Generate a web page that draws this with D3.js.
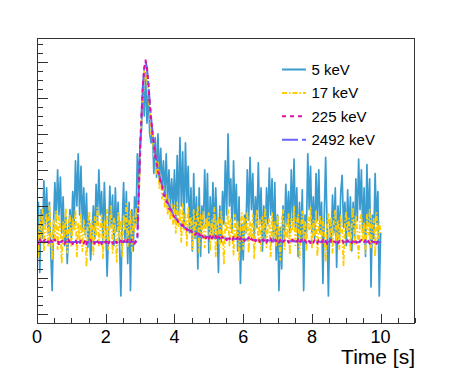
<!DOCTYPE html>
<html>
<head>
<meta charset="utf-8">
<script src="https://cdn.jsdelivr.net/npm/d3@7"></script>
<style>
  body { margin: 0; background: #fff; }
  svg { display: block; font-family: "Liberation Sans", Arial, Helvetica, sans-serif; }
</style>
</head>
<body>
<div id="chart"></div>
<script>
// sampling step of the traces (s)
var dt = 0.04;

var seriesNames = ["5 keV", "17 keV", "225 keV", "2492 keV"];

// 5 keV trace, one value every dt from 0 to 10 s
var blue5 = [
  0.05,0.22,-0.17,0.18,0.02,0.34,0.10,0.30,0.05,0.22,-0.05,-0.27,0.08,0.33,0.12,0.40,0.15,0.36,0.05,0.25,-0.02,0.14,-0.12,0.06,0.18,
  0.02,0.28,0.10,0.45,0.20,0.49,0.15,0.42,0.08,0.30,0.04,0.27,-0.03,0.12,-0.10,0.05,0.20,0.02,0.32,0.12,0.40,0.15,0.28,0.00,0.33,
  0.10,-0.19,0.05,0.31,0.08,0.26,-0.02,0.30,0.06,0.22,0.00,-0.30,0.10,0.33,0.02,0.28,-0.12,0.22,-0.27,0.18,-0.05,0.25,0.10,0.49,0.30,
  0.55,0.62,0.88,0.70,0.94,0.66,0.84,0.60,0.55,0.62,0.38,0.58,0.36,0.60,0.35,0.52,0.30,0.45,0.25,0.49,0.22,0.40,0.20,0.35,0.18,
  0.40,0.12,0.48,0.15,0.58,0.20,0.50,0.08,0.55,0.22,0.42,0.05,0.30,-0.05,0.38,0.02,0.25,-0.15,0.30,-0.08,0.20,0.08,0.40,0.10,0.38,
  -0.06,0.25,0.05,0.33,0.02,0.30,0.10,-0.17,0.20,0.00,0.28,0.10,0.45,0.15,0.60,0.20,0.35,0.05,0.45,0.12,0.32,-0.05,0.25,-0.23,0.10,
  -0.10,0.15,0.05,0.40,0.12,0.47,0.18,0.38,0.02,0.25,0.08,0.44,0.10,0.30,-0.05,0.20,0.02,0.30,0.10,0.41,0.15,0.35,0.00,0.33,-0.10,
  0.15,-0.27,0.08,-0.15,0.20,0.02,0.32,0.10,0.28,0.05,0.40,0.12,0.46,0.08,0.30,-0.08,0.22,0.00,0.29,-0.27,0.15,0.05,0.49,0.18,0.42,
  0.05,0.25,0.02,0.38,0.12,0.40,0.05,0.22,-0.23,0.15,0.47,0.10,-0.30,0.12,0.00,0.26,0.05,0.30,-0.14,0.20,0.02,0.28,0.37,0.08,0.22,
  -0.02,0.29,0.05,0.25,-0.05,0.22,0.02,0.35,0.12,0.46,0.18,0.40,0.05,0.30,-0.08,0.43,0.10,0.35,-0.25,0.15,0.02,0.38,0.10,0.28,-0.30,0.05
];

// 17 keV trace
var yellow17 = [
  0.12,-0.08,0.15,0.00,0.18,-0.05,0.10,0.16,-0.02,0.20,0.05,-0.10,0.12,0.02,0.17,-0.04,0.14,0.08,-0.12,0.11,0.03,0.19,-0.06,0.09,0.15,
  -0.03,0.13,0.06,0.18,-0.08,0.10,0.01,0.16,-0.05,0.12,0.07,-0.14,0.09,0.17,0.00,0.11,-0.07,0.14,0.04,0.19,-0.02,0.08,0.15,-0.09,0.12,
  0.02,0.18,-0.04,0.10,0.20,-0.06,0.13,0.05,-0.11,0.16,0.03,0.12,-0.08,0.15,0.07,0.21,-0.03,0.11,0.17,-0.05,0.14,0.06,0.19,0.10,0.22,
  0.45,0.66,0.80,0.95,0.90,0.93,0.80,0.74,0.60,0.63,0.48,0.52,0.38,0.44,0.30,0.37,0.24,0.31,0.19,0.27,0.15,0.24,0.12,0.21,0.10,
  0.20,0.05,0.22,0.08,0.18,0.00,0.21,0.06,0.16,-0.02,0.19,0.09,0.14,-0.04,0.18,0.03,0.12,0.20,-0.06,0.15,0.05,0.17,-0.03,0.13,0.08,
  0.16,-0.05,0.12,0.02,0.19,-0.08,0.10,0.14,-0.03,0.17,0.04,-0.12,0.11,0.06,0.18,-0.02,0.13,0.08,-0.07,0.15,0.01,0.12,-0.10,0.09,0.16,
  -0.04,0.13,0.05,0.17,-0.06,0.11,0.02,0.15,-0.09,0.10,0.18,0.00,0.12,-0.05,0.14,0.06,0.19,-0.03,0.09,0.13,-0.08,0.16,0.03,0.11,-0.02,
  0.15,0.05,-0.10,0.12,0.18,-0.04,0.10,0.02,0.16,-0.07,0.13,0.06,0.20,-0.02,0.11,0.15,-0.09,0.08,0.17,0.01,0.12,-0.05,0.14,0.07,0.19,
  -0.03,0.12,0.04,0.17,-0.08,0.10,0.15,-0.01,0.13,0.05,-0.11,0.09,0.16,0.02,0.14,-0.06,0.11,0.18,0.00,0.12,-0.04,0.15,0.07,-0.13,0.10,
  0.17,0.03,0.13,-0.05,0.10,0.19,-0.02,0.14,0.06,-0.09,0.12,0.16,0.01,0.11,-0.06,0.15,0.04,0.18,-0.03,0.09,0.13,-0.08,0.16,0.02,0.11,0.05
];

// 225 keV trace
var pink225 = [
  0.01,-0.01,0.015,0.00,-0.012,0.008,0.012,-0.006,0.004,-0.014,0.01,0.002,-0.008,0.014,-0.004,0.006,-0.012,0.01,0.0,0.012,-0.01,0.004,-0.006,0.012,-0.002,
  0.008,-0.012,0.005,0.014,-0.006,0.002,-0.01,0.012,0.004,-0.008,0.01,-0.014,0.006,0.0,0.012,-0.004,0.008,-0.01,0.014,0.002,-0.006,0.01,-0.012,0.004,0.008,
  -0.004,0.012,-0.008,0.006,0.014,-0.01,0.002,0.01,-0.006,0.012,-0.002,0.008,-0.012,0.004,0.01,-0.008,0.014,0.0,-0.006,0.012,0.004,-0.01,0.008,0.02,0.27,
  0.52,0.69,0.87,0.96,1.01,0.96,0.89,0.77,0.69,0.60,0.55,0.48,0.44,0.39,0.37,0.32,0.31,0.26,0.255,0.225,0.215,0.185,0.18,0.155,0.15,
  0.14,0.12,0.125,0.105,0.105,0.09,0.095,0.078,0.082,0.066,0.072,0.056,0.064,0.05,0.056,0.04,0.05,0.034,0.046,0.028,0.042,0.024,0.04,0.02,0.036,
  0.018,0.034,0.014,0.032,0.02,0.035,0.012,0.03,0.022,0.008,0.03,0.016,0.026,0.01,0.032,0.014,0.024,0.006,0.028,0.018,0.012,0.026,0.004,0.022,0.014,
  0.024,0.006,0.02,0.012,0.026,0.002,0.018,0.01,0.022,0.004,0.016,0.024,0.0,0.014,0.02,0.006,0.018,-0.002,0.016,0.01,0.02,0.002,0.012,0.018,0.004,
  0.014,-0.002,0.012,0.018,0.0,0.01,0.004,0.016,-0.004,0.012,0.006,0.014,-0.002,0.01,0.002,0.012,-0.006,0.008,0.014,0.0,0.01,-0.004,0.012,0.004,-0.006,
  0.008,-0.004,0.012,0.0,-0.008,0.01,0.004,-0.006,0.012,-0.002,0.006,-0.01,0.008,0.002,0.012,-0.006,0.004,-0.002,0.01,-0.008,0.006,0.0,0.012,-0.004,0.002,
  -0.008,0.01,0.0,0.006,-0.006,0.012,-0.002,0.004,-0.01,0.008,0.002,0.012,-0.006,0.0,0.01,-0.004,0.006,-0.008,0.012,0.002,-0.002,0.008,-0.01,0.004,0.01,-0.004
];

// 2492 keV trace (smooth), read at irregular times
var purpleTimes = [0, 2.92, 2.96, 3.00, 3.04, 3.08, 3.12, 3.16, 3.20, 3.24, 3.28, 3.32, 3.36, 3.40, 3.45, 3.50, 3.6, 3.7, 3.8, 3.9, 4.0, 4.2, 4.4, 4.6, 4.8, 5.0, 5.5, 6.0, 6.5, 7.0, 8.0, 10.0];
var purple2492 = [0, 0.0, 0.27, 0.50, 0.70, 0.86, 0.97, 1.00, 0.97, 0.88, 0.78, 0.69, 0.61, 0.55, 0.48, 0.42, 0.34, 0.28, 0.22, 0.18, 0.14, 0.095, 0.066, 0.046, 0.034, 0.027, 0.02, 0.015, 0.01, 0.006, 0.002, 0.0];

var xTickLabels = ["0", "2", "4", "6", "8", "10"];

(function() {
    var W = 461, H = 381;
    var left = 37, right = 415, top = 38, bottom = 323;

    var svg = d3.select("#chart").append("svg")
        .attr("width", W).attr("height", H);

    var x = d3.scaleLinear().domain([0, 11]).range([left, right]);
    var y = d3.scaleLinear().domain([-0.45, 1.133]).range([bottom, top]);

    svg.append("clipPath").attr("id", "frame")
      .append("rect")
        .attr("x", left).attr("y", top)
        .attr("width", right - left).attr("height", bottom - top);

    var toPts = function(vals) {
        return vals.map(function(v, i) { return [i * dt, v]; });
    };

    var series = [
        { name: seriesNames[0], pts: toPts(blue5),    color: "#3a9bcf", dash: null,          w: 1.7 },
        { name: seriesNames[1], pts: toPts(yellow17), color: "#ffcc00", dash: "5,2,1.5,2",   w: 1.8 },
        { name: seriesNames[3], pts: purpleTimes.map(function(t, i) { return [t, purple2492[i]]; }),
                                                    color: "#6b63ff", dash: "16,4,4,4",    w: 2 },
        { name: seriesNames[2], pts: toPts(pink225),  color: "#e0109f", dash: "4,4",         w: 2 }
    ];

    var line = d3.line()
        .x(function(d) { return x(d[0]); })
        .y(function(d) { return y(d[1]); });

    var plot = svg.append("g").attr("clip-path", "url(#frame)");
    series.forEach(function(s) {
        plot.append("path")
            .attr("d", line(s.pts))
            .attr("fill", "none")
            .attr("stroke", s.color)
            .attr("stroke-width", s.w)
            .attr("stroke-dasharray", s.dash)
            .attr("stroke-linejoin", "round");
    });

    // frame
    svg.append("rect")
        .attr("x", left + 0.5).attr("y", top + 0.5)
        .attr("width", right - left - 1).attr("height", bottom - top)
        .attr("fill", "none").attr("stroke", "#333").attr("stroke-width", 1);

    // x axis ticks (inside, pointing up)
    var xMinor = d3.range(0, 11.01, 0.5);
    svg.append("g").selectAll("line").data(xMinor).enter().append("line")
        .attr("x1", function(d) { return Math.round(x(d)) + 0.5; })
        .attr("x2", function(d) { return Math.round(x(d)) + 0.5; })
        .attr("y1", bottom)
        .attr("y2", function(d) { return bottom - (d % 2 === 0 ? 9 : 5); })
        .attr("stroke", "#333");

    svg.append("g").selectAll("text").data(xTickLabels).enter().append("text")
        .attr("x", function(d) { return x(+d); })
        .attr("y", 342.5)
        .attr("text-anchor", "middle")
        .attr("font-size", 18)
        .text(function(d) { return d; });

    svg.append("text")
        .attr("x", right).attr("y", 364)
        .attr("text-anchor", "end")
        .attr("font-size", 21)
        .text("Time [s]");

    // y axis ticks (inside, pointing right), no labels
    var yMinor = d3.range(-0.45, 1.1301, 0.05);
    svg.append("g").selectAll("line").data(yMinor).enter().append("line")
        .attr("x1", left)
        .attr("x2", function(d) {
            var major = Math.abs(d / 0.2 - Math.round(d / 0.2)) < 1e-6;
            return left + (major ? 11 : 6);
        })
        .attr("y1", function(d) { return Math.round(y(d)) + 0.5; })
        .attr("y2", function(d) { return Math.round(y(d)) + 0.5; })
        .attr("stroke", "#333");

    // legend
    var legendOrder = [0, 1, 3, 2];
    var lg = svg.append("g");
    legendOrder.forEach(function(si, i) {
        var s = series[si];
        var cy = 69.5 + i * 23.4;
        lg.append("line")
            .attr("x1", 282).attr("x2", 306)
            .attr("y1", cy).attr("y2", cy)
            .attr("stroke", s.color)
            .attr("stroke-width", 2)
            .attr("stroke-dasharray", s.dash);
        lg.append("text")
            .attr("x", 311.5).attr("y", cy + 5.5)
            .attr("font-size", 15)
            .text(s.name);
    });
})();
</script>
</body>
</html>
